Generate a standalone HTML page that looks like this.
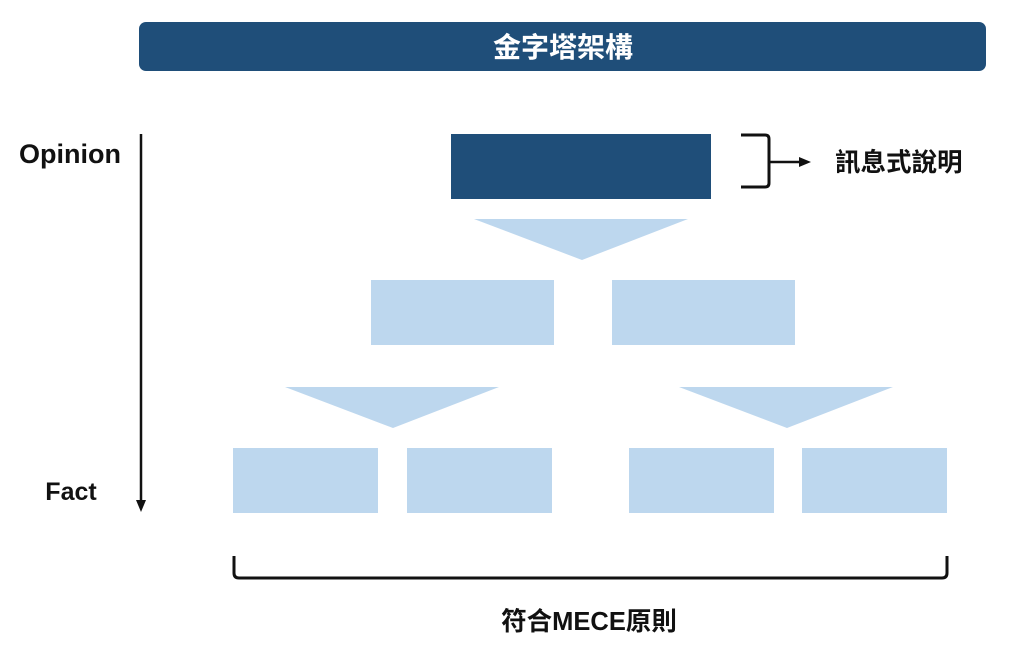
<!DOCTYPE html>
<html><head><meta charset="utf-8"><style>
html,body{margin:0;padding:0;background:#fff;width:1024px;height:664px;overflow:hidden}
svg{display:block}
text{font-family:"Liberation Sans","Noto Sans CJK TC",sans-serif;font-weight:bold}
</style></head><body>
<svg width="1024" height="664" viewBox="0 0 1024 664" xmlns="http://www.w3.org/2000/svg">
<rect x="139" y="22" width="847" height="49" rx="7" fill="#1f4e79"/>
<text x="563" y="57" font-size="28" fill="#fff" text-anchor="middle">金字塔架構</text>
<text x="70" y="163" font-size="27" fill="#111" text-anchor="middle" style="font-weight:600">Opinion</text>
<text x="71" y="500" font-size="25" fill="#111" text-anchor="middle" style="font-weight:600">Fact</text>
<line x1="141" y1="134" x2="141" y2="502" stroke="#111" stroke-width="2.5"/>
<polygon points="136,500 146,500 141,512" fill="#111"/>
<rect x="451" y="134" width="260" height="65" fill="#1f4e79"/>
<path d="M741,135 H765 Q769,135 769,139 V183 Q769,187 765,187 H741" fill="none" stroke="#111" stroke-width="3"/>
<line x1="769" y1="162" x2="801" y2="162" stroke="#111" stroke-width="2.5"/>
<polygon points="799,157 811,162 799,167" fill="#111"/>
<text x="835" y="171" font-size="25.5" fill="#111">訊息式說明</text>
<polygon points="474,219 688,219 582,260" fill="#bdd7ee"/>
<rect x="371" y="280" width="183" height="65" fill="#bdd7ee"/>
<rect x="612" y="280" width="183" height="65" fill="#bdd7ee"/>
<polygon points="285,387 499,387 393,428" fill="#bdd7ee"/>
<polygon points="679,387 893,387 787,428" fill="#bdd7ee"/>
<rect x="233" y="448" width="145" height="65" fill="#bdd7ee"/>
<rect x="407" y="448" width="145" height="65" fill="#bdd7ee"/>
<rect x="629" y="448" width="145" height="65" fill="#bdd7ee"/>
<rect x="802" y="448" width="145" height="65" fill="#bdd7ee"/>
<path d="M234,556 V573 Q234,578 239,578 H942 Q947,578 947,573 V556" fill="none" stroke="#111" stroke-width="3"/>
<text x="589" y="630" font-size="25.5" fill="#111" text-anchor="middle">符合MECE原則</text>
</svg>
</body></html>
